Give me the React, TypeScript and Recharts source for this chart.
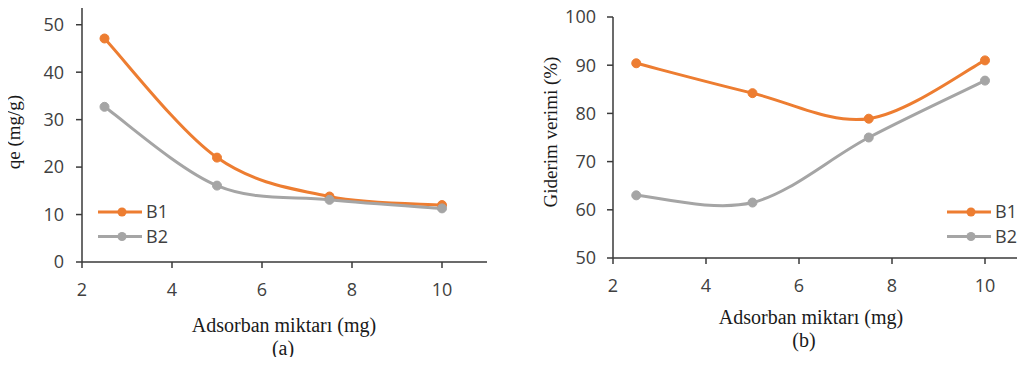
import React from 'react';
import { LineChart, Line, XAxis, YAxis } from 'recharts';

const dose = [2.5, 5, 7.5, 10];
const qeB1 = [47.1, 22.0, 13.8, 12.0];
const qeB2 = [32.7, 16.1, 13.1, 11.3];
const remB1 = [90.4, 84.2, 78.9, 91.0];
const remB2 = [63.0, 61.5, 75.0, 86.8];
const xTicks = [2, 4, 6, 8, 10];
const qeTicks = [0, 10, 20, 30, 40, 50];
const remTicks = [50, 60, 70, 80, 90, 100];
const seriesNames = ['B1', 'B2'];
const xTitle = 'Adsorban miktarı (mg)';
const qeTitle = 'qe (mg/g)';
const remTitle = 'Giderim verimi (%)';

const ORANGE = '#ED7D31';
const GRAY = '#A5A5A5';
const AXIS = '#3a3a3a';
const COLORS = [ORANGE, GRAY];

const qeData = dose.map((x, i) => ({ x, B1: qeB1[i], B2: qeB2[i] }));
const remData = dose.map((x, i) => ({ x, B1: remB1[i], B2: remB2[i] }));

// Excel-like smoothing (Catmull-Rom through points)
const excelCurve: any = (ctx: any) => {
  let pts: [number, number][] = [];
  return {
    areaStart() {},
    areaEnd() {},
    lineStart() { pts = []; },
    point(x: number, y: number) { pts.push([+x, +y]); },
    lineEnd() {
      const n = pts.length;
      if (!n) return;
      ctx.moveTo(pts[0][0], pts[0][1]);
      for (let i = 0; i < n - 1; i++) {
        const p0 = pts[i - 1] || pts[i];
        const p1 = pts[i];
        const p2 = pts[i + 1];
        const p3 = pts[i + 2] || pts[i + 1];
        const c1x = p1[0] + (p2[0] - p0[0]) / 6;
        const c1y = p1[1] + (p2[1] - p0[1]) / 6;
        const c2x = p2[0] - (p3[0] - p1[0]) / 6;
        const c2y = p2[1] - (p3[1] - p1[1]) / 6;
        ctx.bezierCurveTo(c1x, c1y, c2x, c2y, p2[0], p2[1]);
      }
    },
  };
};

const tickStyle = { fontFamily: '"Open Sans", sans-serif', fontSize: 18, fill: '#404040' };

function LegendBox(props: { left: number; top: number }) {
  return (
    <svg width={80} height={50} style={{ position: 'absolute', left: props.left, top: props.top, overflow: 'visible' }}>
      {seriesNames.map((name, i) => {
        const y = 10 + i * 24.5;
        return (
          <g key={name}>
            <line x1={0} y1={y} x2={44} y2={y} stroke={COLORS[i]} strokeWidth={3} />
            <circle cx={24} cy={y} r={4.5} fill={COLORS[i]} />
            <text x={48} y={y} dy="0.35em" style={tickStyle}>{name}</text>
          </g>
        );
      })}
    </svg>
  );
}

const serif: React.CSSProperties = {
  position: 'absolute',
  fontFamily: '"Liberation Serif", serif',
  color: '#1a1a1a',
  whiteSpace: 'nowrap',
};

function Panel(props: {
  data: any[];
  left: number;
  width: number;
  margin: any;
  yWidth: number;
  yDomain: [number, number];
  yTicks: number[];
  yTickMargin: number;
}) {
  return (
    <div style={{ position: 'absolute', left: props.left, top: 0 }}>
      <LineChart width={props.width} height={365} data={props.data} margin={props.margin}>
        <XAxis
          type="number"
          dataKey="x"
          domain={[2, 11]}
          ticks={xTicks}
          allowDataOverflow
          height={30}
          tick={tickStyle}
          tickSize={6}
          tickMargin={15}
          stroke={AXIS}
          strokeWidth={1.5}
          tickLine={{ stroke: AXIS, strokeWidth: 1.5 }}
        />
        <YAxis
          type="number"
          domain={props.yDomain}
          ticks={props.yTicks}
          allowDataOverflow
          width={props.yWidth}
          tick={tickStyle}
          tickSize={6}
          tickMargin={props.yTickMargin}
          stroke={AXIS}
          strokeWidth={1.5}
          tickLine={{ stroke: AXIS, strokeWidth: 1.5 }}
        />
        {seriesNames.map((s, i) => (
          <Line
            key={s}
            dataKey={s}
            name={s}
            type={excelCurve}
            stroke={COLORS[i]}
            strokeWidth={3}
            dot={{ r: 4.5, fill: COLORS[i], stroke: COLORS[i], strokeWidth: 1 }}
            activeDot={false}
            isAnimationActive={false}
          />
        ))}
      </LineChart>
    </div>
  );
}

export default function App() {
  return (
    <div style={{ position: 'relative', width: 1025, height: 365, margin: -8, overflow: 'hidden', background: '#fff' }}>
      <Panel
        data={qeData}
        left={0}
        width={512}
        margin={{ top: 1, right: 25, bottom: 73, left: 22 }}
        yWidth={60}
        yDomain={[0, 55]}
        yTicks={qeTicks}
        yTickMargin={12}
      />
      <Panel
        data={remData}
        left={512}
        width={525}
        margin={{ top: 17, right: 5.5, bottom: 77, left: 31 }}
        yWidth={70}
        yDomain={[50, 100]}
        yTicks={remTicks}
        yTickMargin={11}
      />
      <LegendBox left={98} top={202} />
      <LegendBox left={947} top={202} />
      <div style={{ ...serif, fontSize: 19, left: 14, top: 132, transform: 'translate(-50%, -50%) rotate(-90deg)' }}>{qeTitle}</div>
      <div style={{ ...serif, fontSize: 19, left: 551, top: 132, transform: 'translate(-50%, -50%) rotate(-90deg)' }}>{remTitle}</div>
      <div style={{ ...serif, fontSize: 20, left: 284, top: 325, transform: 'translate(-50%, -50%)' }}>{xTitle}</div>
      <div style={{ ...serif, fontSize: 20, left: 283, top: 348, transform: 'translate(-50%, -50%)' }}>(a)</div>
      <div style={{ ...serif, fontSize: 20, left: 811, top: 317, transform: 'translate(-50%, -50%)' }}>{xTitle}</div>
      <div style={{ ...serif, fontSize: 20, left: 804, top: 340, transform: 'translate(-50%, -50%)' }}>(b)</div>
    </div>
  );
}
